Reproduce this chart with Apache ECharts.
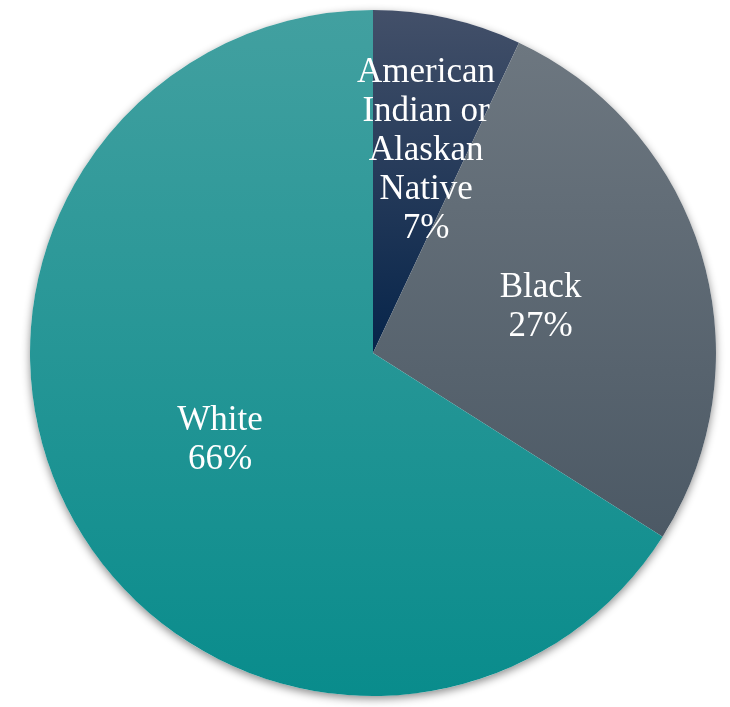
<!DOCTYPE html>
<html>
<head>
<meta charset="utf-8">
<script src="https://cdn.jsdelivr.net/npm/echarts@6/dist/echarts.min.js"></script>
<style>
  html, body { margin: 0; padding: 0; background: #fff; }
  #main { width: 730px; height: 707px; }
</style>
</head>
<body>
<div id="main"></div>
<script>
  // slices, clockwise from 12 o'clock
  var groups = ['American\nIndian or\nAlaskan\nNative', 'Black', 'White'];
  var shares = [7, 27, 66];
  // gradient top / bottom per slice
  var topColors = ['#435069', '#6d7780', '#42a0a0'];
  var bottomColors = ['#06244a', '#4c5965', '#098c8c'];

  var chart = echarts.init(document.getElementById('main'));

  var total = shares.reduce(function (a, b) { return a + b; }, 0);

  var data = groups.map(function (g, i) {
    var item = {
      name: g,
      value: shares[i],
      itemStyle: {
        color: new echarts.graphic.LinearGradient(0, 0, 0, 1, [
          { offset: 0, color: topColors[i] },
          { offset: 1, color: bottomColors[i] }
        ])
      }
    };
    if (i === 0) {
      // small slice: label pushed up like the original
      item.label = { offset: [15, -32] };
    }
    return item;
  });

  var option = {
    animation: false,
    series: [
      {
        // shadow disc behind the pie
        type: 'pie',
        silent: true,
        center: [373, 353],
        radius: 343,
        label: { show: false },
        labelLine: { show: false },
        itemStyle: {
          color: '#ffffff',
          shadowBlur: 8,
          shadowOffsetY: 3,
          shadowColor: 'rgba(0,0,0,0.45)'
        },
        data: [{ value: total }]
      },
      {
        type: 'pie',
        center: [373, 353],
        radius: 343,
        startAngle: 90,
        clockwise: true,
        itemStyle: { borderWidth: 0 },
        label: {
          show: true,
          position: 'inside',
          offset: [0, 3],
          formatter: function (p) { return p.name + '\n' + Math.round(p.percent) + '%'; },
          color: '#ffffff',
          fontFamily: 'Liberation Serif',
          fontSize: 35,
          lineHeight: 39,
          align: 'center'
        },
        labelLine: { show: false },
        emphasis: { disabled: true },
        data: data
      }
    ]
  };

  chart.setOption(option);
</script>
</body>
</html>
